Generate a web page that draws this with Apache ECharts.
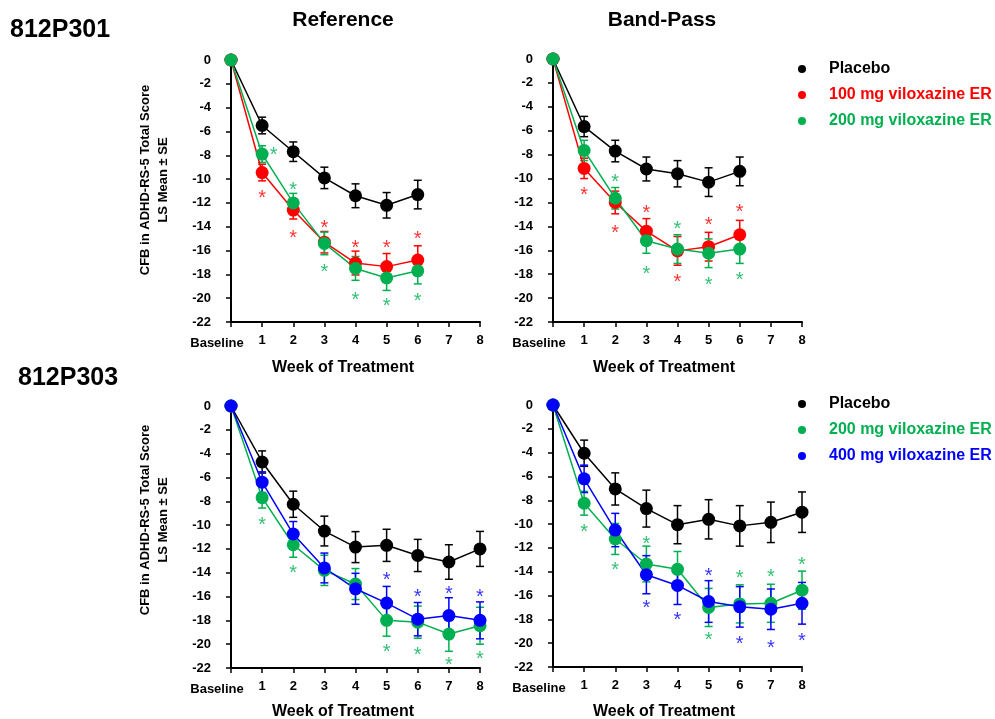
<!DOCTYPE html>
<html>
<head>
<meta charset="utf-8">
<script src="https://cdn.jsdelivr.net/npm/echarts@6/dist/echarts.min.js"></script>
<style>
html, body { margin:0; padding:0; background:#fff; }
#main { width:995px; height:719px; }
</style>
</head>
<body>
<div id="main"></div>
<script>
// weeks (0 = Baseline)
var weeks6 = [0, 1, 2, 3, 4, 5, 6];
var weeks8 = [0, 1, 2, 3, 4, 5, 6, 7, 8];

// 812P301 - Reference
var r301Placebo   = [0, -5.5, -7.7, -9.9, -11.4, -12.2, -11.3];
var r301PlaceboSE = [0, 0.7, 0.82, 0.9, 1.0, 1.07, 1.2];
var r301Dose100   = [0, -9.45, -12.6, -15.3, -17.05, -17.35, -16.8];
var r301Dose100SE = [0, 0.7, 0.75, 0.9, 1.0, 1.1, 1.2];
var r301Dose200   = [0, -7.9, -12.0, -15.4, -17.5, -18.3, -17.7];
var r301Dose200SE = [0, 0.7, 0.8, 0.95, 1.0, 1.05, 1.1];
var r301Star100 = [[1, -11.1], [2, -14.5], [3, -13.65], [4, -15.3], [5, -15.3], [6, -14.6]];
var r301Star200 = [[1.37, -7.5], [2, -10.45], [3, -17.3], [4, -19.7], [5, -20.2], [6, -19.75]];

// 812P301 - Band-Pass
var bp301Placebo   = [0, -5.65, -7.7, -9.2, -9.6, -10.3, -9.4];
var bp301PlaceboSE = [0, 0.85, 0.9, 1.0, 1.1, 1.2, 1.2];
var bp301Dose100   = [0, -9.15, -12.0, -14.4, -16.05, -15.7, -14.7];
var bp301Dose100SE = [0, 0.85, 0.95, 1.05, 1.2, 1.2, 1.2];
var bp301Dose200   = [0, -7.65, -11.65, -15.2, -15.9, -16.25, -15.9];
var bp301Dose200SE = [0, 0.85, 0.9, 1.05, 1.2, 1.2, 1.2];
var bp301Star100 = [[1, -10.9], [2, -14.1], [3, -12.45], [4, -18.2], [5, -13.4], [6, -12.35]];
var bp301Star200 = [[2, -9.85], [3, -17.5], [4, -13.75], [5, -18.45], [6, -18.0]];

// 812P303 - Reference
var r303Placebo   = [0, -4.7, -8.25, -10.5, -11.85, -11.7, -12.55, -13.1, -12.0];
var r303PlaceboSE = [0, 0.93, 1.1, 1.25, 1.3, 1.35, 1.35, 1.45, 1.47];
var r303Dose200   = [0, -7.7, -11.65, -13.8, -14.95, -18.0, -18.15, -19.15, -18.45];
var r303Dose200SE = [0, 0.87, 1.05, 1.27, 1.3, 1.33, 1.35, 1.45, 1.55];
var r303Dose400   = [0, -6.4, -10.75, -13.6, -15.35, -16.55, -17.9, -17.6, -18.0];
var r303Dose400SE = [0, 0.87, 1.05, 1.25, 1.3, 1.4, 1.4, 1.5, 1.55];
var r303Star200 = [[1, -9.5], [2, -13.6], [5, -20.2], [6, -20.45], [7, -21.3], [8, -20.8]];
var r303Star400 = [[5, -14.15], [6, -15.6], [7, -15.3], [8, -15.55]];

// 812P303 - Band-Pass
var bp303Placebo   = [0, -4.05, -7.05, -8.7, -10.05, -9.6, -10.15, -9.85, -9.0];
var bp303PlaceboSE = [0, 1.1, 1.35, 1.55, 1.6, 1.65, 1.7, 1.7, 1.7];
var bp303Dose200   = [0, -8.25, -11.25, -13.35, -13.8, -17.0, -16.7, -16.65, -15.55];
var bp303Dose200SE = [0, 1.0, 1.3, 1.5, 1.5, 1.6, 1.6, 1.6, 1.6];
var bp303Dose400   = [0, -6.2, -10.5, -14.25, -15.15, -16.5, -16.95, -17.15, -16.65];
var bp303Dose400SE = [0, 1.15, 1.4, 1.6, 1.6, 1.75, 1.7, 1.7, 1.75];
var bp303Star200 = [[1, -10.2], [2, -13.4], [3, -11.25], [5, -19.3], [6, -14.1], [7, -13.98], [8, -13.0]];
var bp303Star400 = [[3, -16.6], [4, -17.6], [5, -13.9], [6, -19.57], [7, -19.93], [8, -19.35]];

var NAME_PBO = 'Placebo';
var NAME_100 = '100 mg viloxazine ER';
var NAME_200 = '200 mg viloxazine ER';
var NAME_400 = '400 mg viloxazine ER';

var C_BLACK = '#000000', C_RED = '#ff0000', C_GREEN = '#00b050', C_BLUE = '#0000ff';
var FONT = '"Liberation Sans", Arial, sans-serif';

var grids = [
	{ left: 231, top: 60,  width: 249, height: 262 },
	{ left: 553, top: 59,  width: 249, height: 263 },
	{ left: 231, top: 406, width: 249, height: 262 },
	{ left: 553, top: 405, width: 249, height: 262 }
];

function makeXAxis(idx)
{
	return {
		type: 'value', gridIndex: idx, min: 0, max: 8, interval: 1, position: 'bottom',
		axisLine: { onZero: false, lineStyle: { color: '#000', width: 2 } },
		axisTick: { show: true, length: 5, lineStyle: { color: '#000', width: 1.5 } },
		splitLine: { show: false },
		axisLabel: {
			color: '#000', fontFamily: FONT, fontWeight: 'bold', fontSize: 13, margin: 12,
			formatter: function (v) {
				return v === 0 ? '{b|Baseline}' : String(v);
			},
			rich: { b: { fontFamily: FONT, fontWeight: 'bold', fontSize: 13, color: '#000', padding: [3, 28, 0, 0] } }
		}
	};
}

function makeYAxis(idx)
{
	return {
		type: 'value', gridIndex: idx, min: -22, max: 0, interval: 2, position: 'left',
		axisLine: { show: true, onZero: false, lineStyle: { color: '#000', width: 2 } },
		axisTick: { show: true, length: 5, lineStyle: { color: '#000', width: 1.5 } },
		splitLine: { show: false },
		axisLabel: { color: '#000', fontFamily: FONT, fontWeight: 'bold', fontSize: 13, margin: 20 }
	};
}

// error bar (mean +- SE) with caps
function renderErr(params, api)
{
	var x = api.value(0), y = api.value(1), se = api.value(2);
	var hi = api.coord([x, y + se]);
	var lo = api.coord([x, y - se]);
	var w = 4;
	var st = { stroke: api.visual('color'), lineWidth: 1.5 };
	return {
		type: 'group',
		children: [
			{ type: 'line', shape: { x1: hi[0], y1: hi[1], x2: lo[0], y2: lo[1] }, style: st },
			{ type: 'line', shape: { x1: hi[0] - w, y1: hi[1], x2: hi[0] + w, y2: hi[1] }, style: st },
			{ type: 'line', shape: { x1: lo[0] - w, y1: lo[1], x2: lo[0] + w, y2: lo[1] }, style: st }
		]
	};
}

function errSeries(idx, name, color, weeks, vals, se)
{
	var data = [];
	for (var i = 0; i < weeks.length; i++)
	{
		if (se[i] > 0) data.push([weeks[i], vals[i], se[i]]);
	}
	return {
		type: 'custom', name: name + ' SE', xAxisIndex: idx, yAxisIndex: idx,
		renderItem: renderErr, data: data, itemStyle: { color: color },
		encode: { x: 0, y: 1 }, silent: true, z: 2
	};
}

function lineSeries(idx, name, color, weeks, vals)
{
	var data = [];
	for (var i = 0; i < weeks.length; i++) data.push([weeks[i], vals[i]]);
	return {
		type: 'line', name: name, xAxisIndex: idx, yAxisIndex: idx,
		data: data, symbol: 'circle', symbolSize: 13, showSymbol: true,
		itemStyle: { color: color }, lineStyle: { color: color, width: 1.5 },
		emphasis: { disabled: true }, z: 3
	};
}

function starSeries(idx, color, pts)
{
	return {
		type: 'scatter', xAxisIndex: idx, yAxisIndex: idx, data: pts,
		symbol: 'circle', symbolSize: 1, itemStyle: { color: 'rgba(0,0,0,0)' },
		silent: true, z: 4,
		label: {
			show: true, position: 'inside', formatter: '*', offset: [0, 6],
			color: color, fontFamily: FONT, fontSize: 20
		}
	};
}

function panel(idx, weeks, groups, stars)
{
	var out = [];
	groups.forEach(function (g) { out.push(errSeries(idx, g[0], g[1], weeks, g[2], g[3])); });
	groups.forEach(function (g) { out.push(lineSeries(idx, g[0], g[1], weeks, g[2])); });
	stars.forEach(function (s) { out.push(starSeries(idx, s[0], s[1])); });
	return out;
}

var series = [].concat(
	panel(0, weeks6, [
		[NAME_PBO, C_BLACK, r301Placebo, r301PlaceboSE],
		[NAME_100, C_RED, r301Dose100, r301Dose100SE],
		[NAME_200, C_GREEN, r301Dose200, r301Dose200SE]
	], [[C_RED, r301Star100], [C_GREEN, r301Star200]]),
	panel(1, weeks6, [
		[NAME_PBO, C_BLACK, bp301Placebo, bp301PlaceboSE],
		[NAME_100, C_RED, bp301Dose100, bp301Dose100SE],
		[NAME_200, C_GREEN, bp301Dose200, bp301Dose200SE]
	], [[C_RED, bp301Star100], [C_GREEN, bp301Star200]]),
	panel(2, weeks8, [
		[NAME_PBO, C_BLACK, r303Placebo, r303PlaceboSE],
		[NAME_200, C_GREEN, r303Dose200, r303Dose200SE],
		[NAME_400, C_BLUE, r303Dose400, r303Dose400SE]
	], [[C_GREEN, r303Star200], [C_BLUE, r303Star400]]),
	panel(3, weeks8, [
		[NAME_PBO, C_BLACK, bp303Placebo, bp303PlaceboSE],
		[NAME_200, C_GREEN, bp303Dose200, bp303Dose200SE],
		[NAME_400, C_BLUE, bp303Dose400, bp303Dose400SE]
	], [[C_GREEN, bp303Star200], [C_BLUE, bp303Star400]])
);

function legendItem(name, color)
{
	return { name: name, textStyle: { color: color } };
}

function legendBox(top, items)
{
	return {
		orient: 'vertical', left: 793, top: top, icon: 'circle',
		itemWidth: 44, itemHeight: 8, itemGap: 10, selectedMode: false,
		textStyle: { fontFamily: FONT, fontWeight: 'bold', fontSize: 16 },
		data: items
	};
}

function txt(x, y, text, size, align)
{
	return {
		type: 'text', x: x, y: y, silent: true,
		style: {
			text: text, fill: '#000', font: 'bold ' + size + 'px ' + FONT,
			align: align || 'center', verticalAlign: 'middle'
		}
	};
}

function yName(x, y)
{
	return {
		type: 'text', x: x, y: y, rotation: Math.PI / 2, silent: true,
		style: {
			text: 'CFB in ADHD-RS-5 Total Score\nLS Mean ± SE', fill: '#000',
			font: 'bold 13px ' + FONT, lineHeight: 18, align: 'center', verticalAlign: 'middle'
		}
	};
}

var option = {
	animation: false,
	backgroundColor: '#fff',
	grid: grids,
	xAxis: [makeXAxis(0), makeXAxis(1), makeXAxis(2), makeXAxis(3)],
	yAxis: [makeYAxis(0), makeYAxis(1), makeYAxis(2), makeYAxis(3)],
	legend: [
		legendBox(56, [legendItem(NAME_PBO, C_BLACK), legendItem(NAME_100, C_RED), legendItem(NAME_200, C_GREEN)]),
		legendBox(391, [legendItem(NAME_PBO, C_BLACK), legendItem(NAME_200, C_GREEN), legendItem(NAME_400, C_BLUE)])
	],
	graphic: [
		txt(10, 30, '812P301', 25, 'left'),
		txt(18, 378, '812P303', 25, 'left'),
		txt(343, 20, 'Reference', 21),
		txt(662, 20, 'Band-Pass', 21),
		txt(343, 368, 'Week of Treatment', 16),
		txt(664, 368, 'Week of Treatment', 16),
		txt(343, 712, 'Week of Treatment', 16),
		txt(664, 712, 'Week of Treatment', 16),
		yName(154, 180),
		yName(154, 520)
	],
	series: series
};

var myChart = echarts.init(document.getElementById('main'), null, { renderer: 'canvas' });
myChart.setOption(option);
</script>
</body>
</html>
